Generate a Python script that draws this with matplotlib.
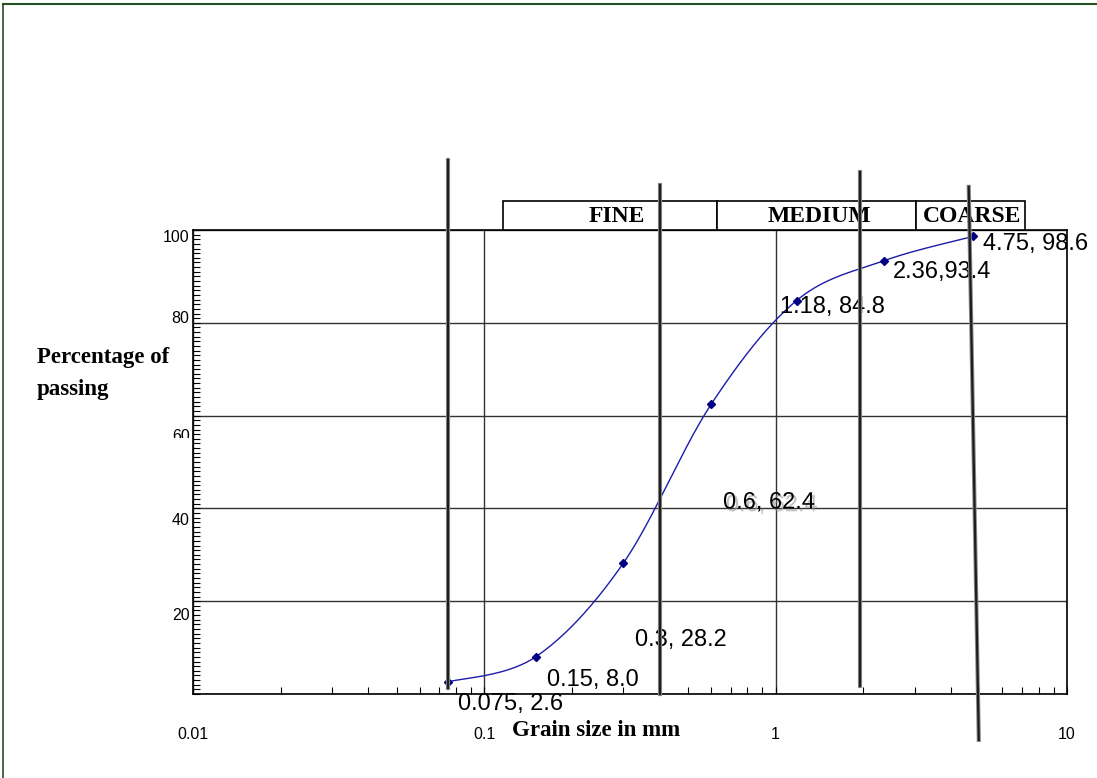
import numpy as np
import matplotlib
matplotlib.use("Agg")
import matplotlib.pyplot as plt
import matplotlib.patheffects as pe
import matplotlib.transforms as mtransforms
from matplotlib.patches import Rectangle
from matplotlib.lines import Line2D
from matplotlib.ticker import MultipleLocator, LogLocator, NullFormatter

# ---------------- Sieve analysis data ------------------------
sieve_mm    = [0.075, 0.15, 0.3, 0.6, 1.18, 2.36, 4.75]
passing_pct = [2.6, 8.0, 28.2, 62.4, 84.8, 93.4, 98.6]
point_labels = ["0.075, 2.6", "0.15, 8.0", "0.3, 28.2", "0.6, 62.4",
                "1.18, 84.8", "2.36,93.4", "4.75, 98.6"]

x_ticks       = [0.01, 0.1, 1, 10]
x_tick_labels = ["0.01", "0.1", "1", "10"]
y_ticks       = [0, 20, 40, 60, 80, 100]
y_tick_labels = ["100", "80", "60", "40", "20"]

# zone names and the sieve sizes that bound them (mm)
zone_names  = ["FINE", "MEDIUM", "COARSE"]
zone_limits = [0.075, 0.4, 1.95, 4.75]

# ---------------- Layout ------------------------
SANS  = "Liberation Sans"
SERIF = "Liberation Serif"
LABEL_FS = 16.5
TICK_FS  = 11.5
DATA_FS  = 17
ZONE_FS  = 17

# label offsets from each point, in pixels
label_offsets = [(10, -22), (11, -23), (12, -77), (12, -98),
                 (-17, -6), (9, -11), (10, -8)]
# where the y labels sit (data units), slightly off the grid
y_label_pos = [98.3, 81.0, 55.4, 37.3, 17.0]


def smooth_curve(x, y, n=40):
    # Catmull-Rom through the points, done in log-x space
    u = np.log10(np.asarray(x, float))
    v = np.asarray(y, float)
    pu = np.concatenate([[u[0]], u, [u[-1]]])
    pv = np.concatenate([[v[0]], v, [v[-1]]])
    t = np.linspace(0, 1, n)
    cu, cv = [], []
    for i in range(1, len(pu) - 2):
        for p, out in ((pu, cu), (pv, cv)):
            p0, p1, p2, p3 = p[i - 1], p[i], p[i + 1], p[i + 2]
            out.append(0.5 * (2 * p1 + (-p0 + p2) * t
                              + (2 * p0 - 5 * p1 + 4 * p2 - p3) * t ** 2
                              + (-p0 + 3 * p1 - 3 * p2 + p3) * t ** 3))
    return 10 ** np.concatenate(cu), np.concatenate(cv)


fig = plt.figure(figsize=(10.97, 7.78), dpi=100)
fig.patch.set_facecolor("white")
ax = fig.add_axes([193 / 1097, 84 / 778, 874 / 1097, 464 / 778])

ax.set_xscale("log")
ax.set_xlim(0.01, 10)
ax.set_ylim(0, 100)

# ---------------- Grading curve ------------------------
sx, sy = smooth_curve(sieve_mm, passing_pct)
ax.plot(sx, sy, color="#1c1caa", lw=1.0, zorder=4)
ax.plot(sieve_mm, passing_pct, linestyle="none", marker="D", markersize=4,
        color="#000080", zorder=5)

for xv, yv, txt, off in zip(sieve_mm, passing_pct, point_labels, label_offsets):
    effects = None
    if txt == "0.6, 62.4":
        effects = [pe.SimplePatchShadow(offset=(2, -2), shadow_rgbFace="0.6", alpha=0.6),
                   pe.Normal()]
    ax.annotate(txt, (xv, yv), xytext=off, textcoords="offset pixels",
                ha="left", va="center", fontsize=DATA_FS, family=SANS,
                color="black", zorder=6, path_effects=effects)

# ---------------- Axes styling ------------------------
for s in ax.spines.values():
    s.set_linewidth(1.2)
    s.set_color("black")

ax.set_xticks(x_ticks)
ax.set_xticklabels(x_tick_labels, fontsize=TICK_FS, family=SANS)
ax.xaxis.set_minor_locator(LogLocator(base=10, subs=np.arange(2, 10)))
ax.xaxis.set_minor_formatter(NullFormatter())
ax.set_yticks(y_ticks)
ax.set_yticklabels([])
ax.yaxis.set_minor_locator(MultipleLocator(1))
ax.tick_params(axis="both", which="both", direction="in", length=5,
               width=0.8, top=False, right=False)
ax.tick_params(axis="x", which="major", pad=24)
ax.grid(True, which="major", color="#333333", linewidth=1.0)

# y labels sit a little off their grid lines; the 60 is half hidden
ylab_tr = mtransforms.blended_transform_factory(ax.transAxes, ax.transData)
for lab, yp in zip(y_tick_labels, y_label_pos):
    t = fig.text(-0.004, yp, lab, transform=ylab_tr, ha="right", va="center",
                 fontsize=TICK_FS, family=SANS)
    if lab == "60":
        clip = mtransforms.TransformedBbox(
            mtransforms.Bbox([[0, (778 - 438) / 778], [1, 1]]), fig.transFigure)
        t.set_clip_box(clip)
        t.set_clip_on(True)

fig.text(37 / 1097, 1 - 357 / 778, "Percentage of", ha="left", va="center",
         fontsize=LABEL_FS, family=SERIF, weight="bold")
fig.text(37 / 1097, 1 - 390 / 778, "passing", ha="left", va="center",
         fontsize=LABEL_FS, family=SERIF, weight="bold")
fig.text(512 / 1097, 1 - 731 / 778, "Grain size in mm", ha="left", va="center",
         fontsize=LABEL_FS, family=SERIF, weight="bold")

# ---------------- Zone header above the plot ------------------------
box_edges = [0.1162, 0.627, 3.03, 7.17]
text_pos = [0.286, 1.416, 4.72]
for name, x0, x1, xt in zip(zone_names, box_edges[:-1], box_edges[1:], text_pos):
    ax.add_patch(Rectangle((x0, 100), x1 - x0, 6.25, facecolor="white",
                           edgecolor="black", lw=1.2, clip_on=False, zorder=3))
    ax.text(xt, 103.0, name, ha="center", va="center", fontsize=ZONE_FS,
            family=SERIF, weight="bold", zorder=3.5)

# ---------------- Zone boundary lines ------------------------
bound_x = [(zone_limits[0], zone_limits[0]), (zone_limits[1], zone_limits[1]),
           (zone_limits[2], zone_limits[2]), (4.6, 4.98)]
bound_y = [(115.1, 1.3), (109.7, 0.0), (112.5, 1.7), (109.3, -9.9)]
for bx, by in zip(bound_x, bound_y):
    ax.plot(bx, by, color="#1e1e1e", lw=1.6, clip_on=False, zorder=7,
            path_effects=[pe.Stroke(linewidth=3.0, foreground="#8c8c8c"), pe.Normal()])

# ---------------- Frame lines round the chart area ------------------------
fig.add_artist(Line2D([3 / 1097, 1], [1 - 4 / 778, 1 - 4 / 778],
                      transform=fig.transFigure, color="#245024", lw=1.5))
fig.add_artist(Line2D([3 / 1097, 3 / 1097], [0, 1 - 4 / 778],
                      transform=fig.transFigure, color="#245024", lw=1.2))

fig.savefig("out.png", dpi=100, facecolor="white")
plt.close(fig)
